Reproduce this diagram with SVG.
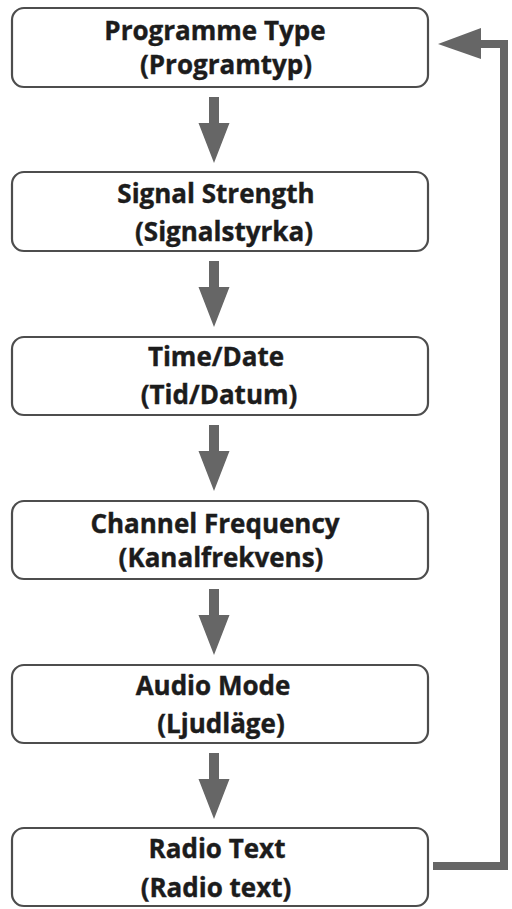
<svg xmlns="http://www.w3.org/2000/svg" xmlns:xlink="http://www.w3.org/1999/xlink" width="512" height="909" viewBox="0 0 512 909">
<style>
.box{fill:#fff;stroke:#4d4d4d;stroke-width:2.2}
.t{font-family:"Open Sans","Liberation Sans",sans-serif;font-weight:700;font-size:26px;fill:#1c1c1c;text-anchor:middle;stroke:#1c1c1c;stroke-width:0.4}
.arr{fill:#666}
.fb{fill:none;stroke:#666;stroke-width:8}
</style>
<defs>
<path id="down" d="M-5,0 H5 V26 H15.5 L0,66 L-15.5,26 H-5 Z"/>
</defs>
<rect width="512" height="909" fill="#fff"/>
<g id="connectors" class="arr">
<use xlink:href="#down" href="#down" x="214" y="97"/>
<use xlink:href="#down" href="#down" x="214" y="261"/>
<use xlink:href="#down" href="#down" x="214" y="425"/>
<use xlink:href="#down" href="#down" x="214" y="589"/>
<use xlink:href="#down" href="#down" x="214" y="753"/>
<path class="fb" d="M433,866 H504 V44 H478"/>
<path d="M438,44 L481,28 L481,59 Z"/>
</g>
<g id="n1"><rect class="box" x="12" y="8" width="416" height="79" rx="12"/>
<text class="t" x="215" y="40">Programme Type</text><text class="t" x="226" y="74">(Programtyp)</text></g>
<g id="n2"><rect class="box" x="12" y="172" width="416" height="79" rx="12"/>
<text class="t" x="216" y="203">Signal Strength</text><text class="t" x="224" y="241">(Signalstyrka)</text></g>
<g id="n3"><rect class="box" x="12" y="337" width="416" height="78" rx="12"/>
<text class="t" x="216" y="366">Time/Date</text><text class="t" x="219" y="404">(Tid/Datum)</text></g>
<g id="n4"><rect class="box" x="12" y="501" width="416" height="78" rx="12"/>
<text class="t" x="215" y="533">Channel Frequency</text><text class="t" x="221" y="567">(Kanalfrekvens)</text></g>
<g id="n5"><rect class="box" x="12" y="665" width="416" height="78" rx="12"/>
<text class="t" x="213" y="695">Audio Mode</text><text class="t" x="221" y="733">(Ljudläge)</text></g>
<g id="n6"><rect class="box" x="12" y="828" width="416" height="78" rx="12"/>
<text class="t" x="217" y="858">Radio Text</text><text class="t" x="216" y="897">(Radio text)</text></g>
</svg>
